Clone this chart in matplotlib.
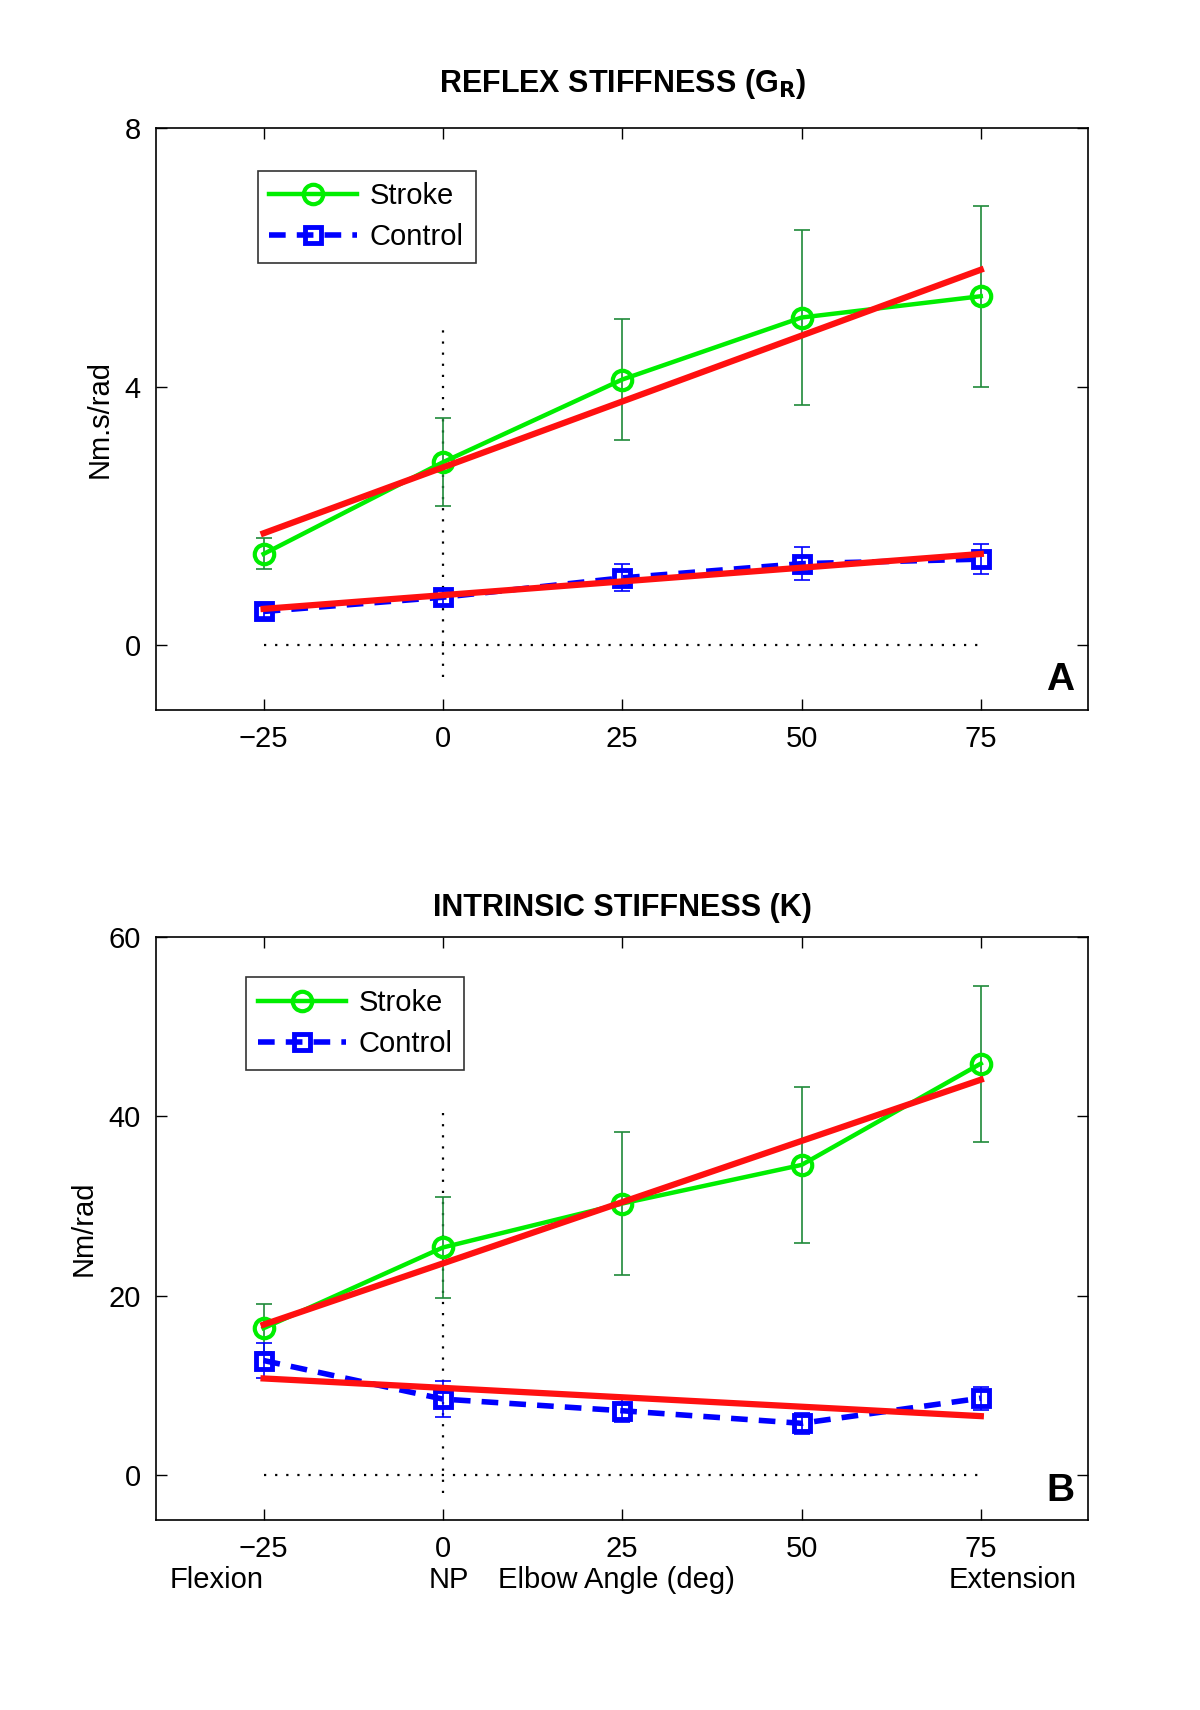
import matplotlib.pyplot as plt
import matplotlib.transforms as mtransforms
import numpy as np

plt.rcParams['font.family'] = ['Liberation Sans', 'DejaVu Sans']

angles = [-25, 0, 25, 50, 75]

# panel A: reflex stiffness (Nm.s/rad)
reflex_stroke = [1.41, 2.83, 4.11, 5.07, 5.40]
reflex_stroke_err = [0.24, 0.68, 0.94, 1.36, 1.40]
reflex_control = [0.52, 0.74, 1.04, 1.26, 1.33]
reflex_control_err = [0.08, 0.12, 0.21, 0.26, 0.23]
reflex_stroke_fit = [1.73, 5.81]
reflex_control_fit = [0.56, 1.41]

# panel B: intrinsic stiffness (Nm/rad)
intr_stroke = [16.4, 25.4, 30.3, 34.6, 45.9]
intr_stroke_err = [2.7, 5.6, 8.0, 8.7, 8.7]
intr_control = [12.8, 8.5, 7.2, 5.8, 8.6]
intr_control_err = [1.9, 2.0, 1.3, 1.2, 1.3]
intr_stroke_fit = [16.8, 44.1]
intr_control_fit = [10.8, 6.6]

fit_x = [-25, 75]
zero_x = [-25, 75]
np_line_a = [-0.5, 5.0]
np_line_b = [-2.0, 41.3]

GREEN = '#00ee00'
DKGREEN = '#1f8a3a'
BLUE = '#0000ff'
RED = '#ff1010'
FS = 21


def draw_panel(ax, stroke, s_err, control, c_err, s_fit, c_fit, np_line,
               ylim, yticks, ylabel, title, title_pad, letter, leg_pos):
    ax.plot(zero_x, [0, 0], color='k', lw=1.6, ls=(0, (1, 4)), zorder=1)
    ax.plot([0, 0], np_line, color='k', lw=1.6, ls=(0, (1, 4)), zorder=1)

    ax.errorbar(angles, stroke, yerr=s_err, fmt='none', ecolor=DKGREEN,
                elinewidth=1.2, capsize=6, capthick=1.2, zorder=2)
    ax.plot(angles, stroke, color=GREEN, lw=3.2, marker='o', ms=14,
            mfc='none', mec=GREEN, mew=3, label='Stroke', zorder=3)

    ax.errorbar(angles, control, yerr=c_err, fmt='none', ecolor=BLUE,
                elinewidth=1.2, capsize=6, capthick=1.2, zorder=2)
    ax.plot(angles, control, color=BLUE, lw=4, ls=(0, (3, 2)), marker='s',
            ms=12, mfc='none', mec=BLUE, mew=3.5, label='Control', zorder=3)

    ax.plot(fit_x, s_fit, color=RED, lw=4.5, zorder=4)
    ax.plot(fit_x, c_fit, color=RED, lw=4.5, zorder=4)

    ax.set_xlim(-40, 90)
    ax.set_ylim(*ylim)
    ax.set_xticks(angles)
    ax.set_xticklabels(['\u221225', '0', '25', '50', '75'])
    ax.set_yticks(yticks)
    ax.tick_params(direction='in', length=8, width=1, labelsize=FS, pad=11,
                   top=True, right=True)
    for sp in ax.spines.values():
        sp.set_linewidth(1.2)
    ax.set_ylabel(ylabel, fontsize=FS, labelpad=8)
    ax.set_title(title, fontsize=22, fontweight='bold', pad=title_pad)
    ax.text(0.985, 0.02, letter, transform=ax.transAxes, ha='right',
            va='bottom', fontsize=28, fontweight='bold')
    leg = ax.legend(loc='upper left', bbox_to_anchor=leg_pos,
                    fontsize=FS, frameon=True, fancybox=False,
                    edgecolor='k', handlelength=3, borderpad=0.4,
                    labelspacing=0.45, handletextpad=0.45, borderaxespad=0)
    leg.get_frame().set_linewidth(1.2)


fig = plt.figure(figsize=(12, 17.1), dpi=100)
ax1 = fig.add_axes([0.130, 0.585, 0.777, 0.340])
ax2 = fig.add_axes([0.130, 0.111, 0.777, 0.341])

draw_panel(ax1, reflex_stroke, reflex_stroke_err, reflex_control,
           reflex_control_err, reflex_stroke_fit, reflex_control_fit,
           np_line_a, (-1, 8), [0, 4, 8], 'Nm.s/rad',
           r'REFLEX STIFFNESS (G$_\mathbf{R}$)', 26, 'A', (0.109, 0.927))
draw_panel(ax2, intr_stroke, intr_stroke_err, intr_control,
           intr_control_err, intr_stroke_fit, intr_control_fit,
           np_line_b, (-5, 60), [0, 20, 40, 60], 'Nm/rad',
           'INTRINSIC STIFFNESS (K)', 15, 'B', (0.097, 0.931))

trans = mtransforms.blended_transform_factory(ax2.transData, ax2.transAxes)
extra = [(-31.5, 'Flexion'), (0.8, 'NP'), (24.2, 'Elbow Angle (deg)'),
         (79.4, 'Extension')]
for xv, txt in extra:
    ax2.text(xv, -0.103, txt, transform=trans, ha='center', va='center',
             fontsize=FS)

fig.savefig('out.png', dpi=100)
